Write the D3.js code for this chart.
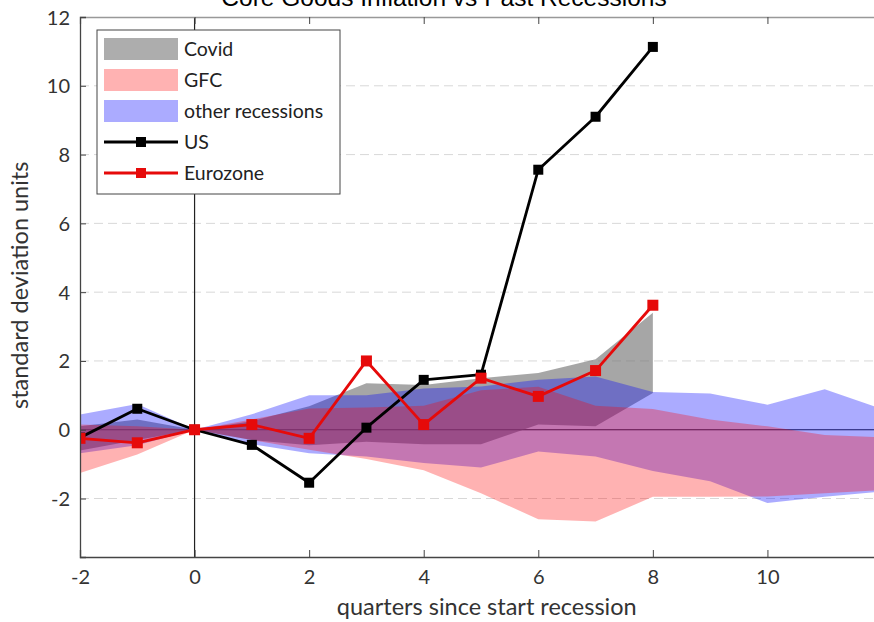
<!DOCTYPE html>
<html>
<head>
<meta charset="UTF-8">
<title>Core Goods Inflation vs Past Recessions</title>
<script src="https://d3js.org/d3.v7.min.js"></script>
<style>
  body { margin: 0; background: #fff; }
  svg { display: block; }
  .tick text { font-family: Lato, "Open Sans", sans-serif; font-size: 20px; fill: #333; }
</style>
</head>
<body>
<div id="chart"></div>
<script>
// ---------- data
var quarters = [-2, -1, 0, 1, 2, 3, 4, 5, 6, 7, 8, 9, 10, 11, 12];
var covidQuarters = [-2, -1, 0, 1, 2, 3, 4, 5, 6, 7, 8];

var covidLow  = [-0.6, -0.3, 0, -0.3, -0.45, -0.35, -0.42, -0.42, 0.15, 0.1, 1.07];
var covidHigh = [0.1, 0.3, 0, 0.25, 0.68, 1.35, 1.3, 1.5, 1.65, 2.05, 3.4];

var gfcLow  = [-1.26, -0.72, 0, -0.3, -0.58, -0.85, -1.18, -1.85, -2.6, -2.67, -1.95, -1.95, -1.94, -1.85, -1.75];
var gfcHigh = [0.15, 0.1, 0, 0.3, 0.62, 0.65, 0.7, 1.15, 1.25, 0.7, 0.6, 0.3, 0.1, -0.15, -0.22];

var otherLow  = [-0.68, -0.45, 0, -0.42, -0.68, -0.78, -0.97, -1.1, -0.63, -0.78, -1.2, -1.5, -2.13, -1.95, -1.8];
var otherHigh = [0.44, 0.75, 0, 0.45, 1.0, 1.0, 1.2, 1.26, 1.45, 1.55, 1.1, 1.05, 0.73, 1.18, 0.6];

var lineQuarters = [-2, -1, 0, 1, 2, 3, 4, 5, 6, 7, 8];
var usValues = [-0.23, 0.61, 0, -0.44, -1.54, 0.06, 1.45, 1.6, 7.56, 9.1, 11.13];
var ezValues = [-0.25, -0.38, 0, 0.15, -0.25, 2.0, 0.15, 1.5, 0.97, 1.72, 3.62];

var xTicks = [-2, 0, 2, 4, 6, 8, 10];
var yTicks = [-2, 0, 2, 4, 6, 8, 10, 12];

// ----------
var W = 874, H = 622;
var pLeft = 80, pRight = 882, pTop = 17, pBottom = 557;

var svg = d3.select("#chart").append("svg")
    .attr("width", W).attr("height", H);

var x = d3.scaleLinear().domain([-2, 12]).range([pLeft, pRight]);
var y = d3.scaleLinear().domain([-3.7, 12]).range([pBottom, pTop]);

svg.append("clipPath").attr("id", "plotclip")
  .append("rect")
    .attr("x", pLeft).attr("y", pTop)
    .attr("width", pRight - pLeft).attr("height", pBottom - pTop);

var plot = svg.append("g").attr("clip-path", "url(#plotclip)");

// dashed grid
plot.selectAll("line.grid")
    .data(yTicks.filter(function(d) { return d != 0 && d != 12; }))
  .enter().append("line")
    .attr("class", "grid")
    .attr("x1", pLeft).attr("x2", pRight)
    .attr("y1", function(d) { return y(d); })
    .attr("y2", function(d) { return y(d); })
    .style("stroke", "#d8d8d8")
    .style("stroke-width", 1)
    .style("stroke-dasharray", "9,5");

// zero lines
plot.append("line")
    .attr("x1", pLeft).attr("x2", pRight)
    .attr("y1", y(0)).attr("y2", y(0))
    .style("stroke", "#222").style("stroke-width", 1.2);
plot.append("line")
    .attr("x1", x(0)).attr("x2", x(0))
    .attr("y1", pTop).attr("y2", pBottom)
    .style("stroke", "#222").style("stroke-width", 1.2);

// bands
var band = function(qs, lo, hi, fill, op) {
    var pts = qs.map(function(q, i) { return { q: q, lo: lo[i], hi: hi[i] }; });
    var area = d3.area()
        .x(function(d) { return x(d.q); })
        .y0(function(d) { return y(d.lo); })
        .y1(function(d) { return y(d.hi); });
    plot.append("path")
        .datum(pts)
        .attr("d", area)
        .style("fill", fill)
        .style("fill-opacity", op)
        .style("stroke", "none");
};
band(covidQuarters, covidLow, covidHigh, "#777", 0.65);
band(quarters, otherLow, otherHigh, "#0000ff", 0.33);
band(quarters, gfcLow, gfcHigh, "#ff0000", 0.3);

// lines with square markers
var drawSeries = function(vals, color, size) {
    var pts = lineQuarters.map(function(q, i) { return [q, vals[i]]; });
    var line = d3.line()
        .x(function(d) { return x(d[0]); })
        .y(function(d) { return y(d[1]); });
    plot.append("path")
        .datum(pts)
        .attr("d", line)
        .style("fill", "none")
        .style("stroke", color)
        .style("stroke-width", 2.8)
        .style("stroke-linejoin", "round");
    plot.selectAll(null)
        .data(pts)
      .enter().append("rect")
        .attr("x", function(d) { return x(d[0]) - size / 2; })
        .attr("y", function(d) { return y(d[1]) - size / 2; })
        .attr("width", size).attr("height", size)
        .style("fill", color);
};
drawSeries(usValues, "#000", 10);
drawSeries(ezValues, "#e60a0a", 11);

// axes (ticks pointing inward, box)
var fmt = function(d) { return String(d); };
var xAxis = svg.append("g")
    .attr("transform", "translate(0," + pBottom + ")")
    .call(d3.axisBottom(x).tickValues(xTicks).tickFormat(fmt).tickSize(-7).tickPadding(12));
var xTop = svg.append("g")
    .attr("transform", "translate(0," + pTop + ")")
    .call(d3.axisTop(x).tickValues(xTicks).tickSize(-7).tickFormat(""));
var yAxis = svg.append("g")
    .attr("transform", "translate(" + pLeft + ",0)")
    .call(d3.axisLeft(y).tickValues(yTicks).tickFormat(fmt).tickSize(-6).tickPadding(10));

[xAxis, xTop, yAxis].forEach(function(a) {
    a.select(".domain").style("stroke", "#444").style("stroke-width", 1.3);
    a.selectAll(".tick line").style("stroke", "#444");
});
xTop.select(".domain").style("stroke", "#999");
yAxis.selectAll(".tick text").attr("dy", "0.35em");
xAxis.selectAll(".tick text").attr("dy", "0.75em");

// axis titles
svg.append("text")
    .attr("x", x(5.1)).attr("y", 615)
    .attr("text-anchor", "middle")
    .style("font-family", "Lato, 'Open Sans', sans-serif")
    .style("font-size", "23.5px").style("fill", "#333")
    .text("quarters since start recession");
svg.append("text")
    .attr("transform", "translate(28," + y(4.2) + ") rotate(-90)")
    .attr("text-anchor", "middle")
    .style("font-family", "Lato, 'Open Sans', sans-serif")
    .style("font-size", "23.5px").style("fill", "#333")
    .text("standard deviation units");

// title, mostly cut off at the top edge
svg.append("text")
    .attr("x", 444).attr("y", 6)
    .attr("text-anchor", "middle")
    .style("font-family", "'Liberation Sans', Arial, sans-serif")
    .style("font-size", "24.5px").style("fill", "#000")
    .text("Core Goods Inflation vs Past Recessions");

// legend
var legendItems = [
    { name: "Covid", kind: "band", color: "#777", op: 0.6 },
    { name: "GFC", kind: "band", color: "#ff0000", op: 0.3 },
    { name: "other recessions", kind: "band", color: "#0000ff", op: 0.33 },
    { name: "US", kind: "line", color: "#000" },
    { name: "Eurozone", kind: "line", color: "#e60a0a" }
];
var lg = svg.append("g").attr("transform", "translate(97,30)");
lg.append("rect")
    .attr("width", 243).attr("height", 164)
    .style("fill", "#fff").style("stroke", "#444").style("stroke-width", 1);
var row = lg.selectAll("g.item")
    .data(legendItems)
  .enter().append("g")
    .attr("class", "item")
    .attr("transform", function(d, i) { return "translate(0," + (19 + i * 31) + ")"; });
row.filter(function(d) { return d.kind == "band"; })
  .append("rect")
    .attr("x", 7).attr("y", -11).attr("width", 74).attr("height", 22)
    .style("fill", function(d) { return d.color; })
    .style("fill-opacity", function(d) { return d.op; });
var lineRow = row.filter(function(d) { return d.kind == "line"; });
lineRow.append("line")
    .attr("x1", 7).attr("x2", 81).attr("y1", 0).attr("y2", 0)
    .style("stroke", function(d) { return d.color; })
    .style("stroke-width", 2.8);
lineRow.append("rect")
    .attr("x", 39).attr("y", -5).attr("width", 10).attr("height", 10)
    .style("fill", function(d) { return d.color; });
row.append("text")
    .attr("x", 87).attr("y", 0).attr("dy", "0.35em")
    .style("font-family", "Lato, 'Open Sans', sans-serif")
    .style("font-size", "19.5px").style("fill", "#222")
    .text(function(d) { return d.name; });
</script>
</body>
</html>
